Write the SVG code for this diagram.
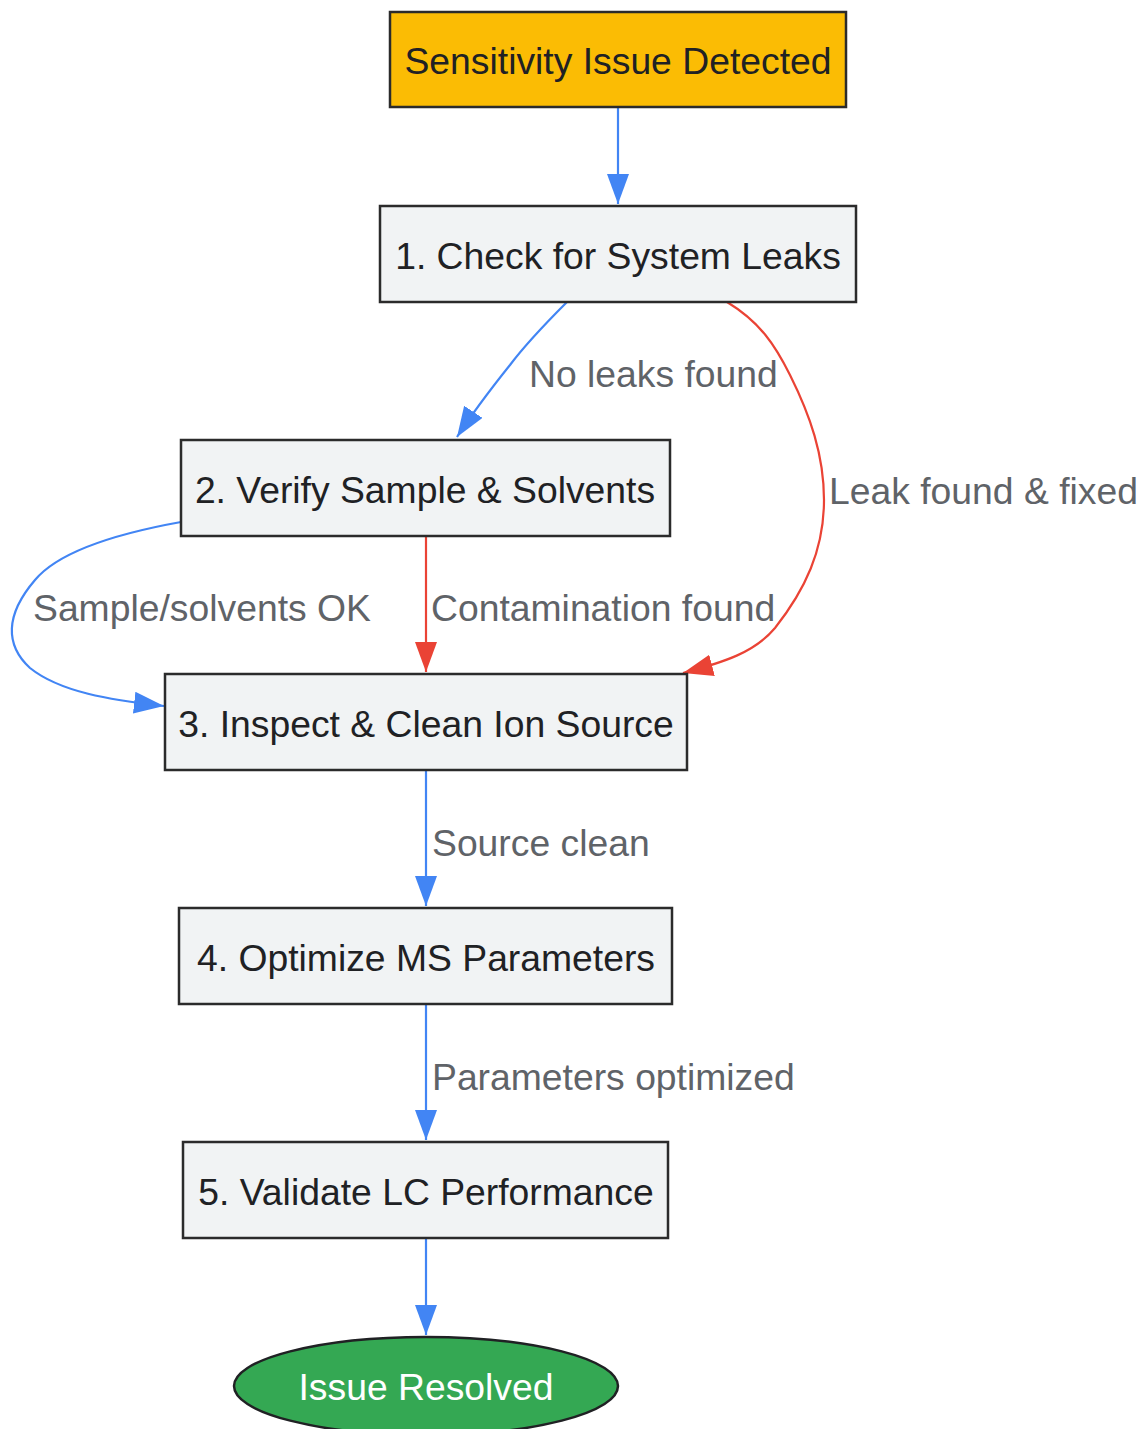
<svg xmlns="http://www.w3.org/2000/svg" width="1140" height="1429" viewBox="0 0 1140 1429">
<style>
.n{fill:#f1f3f4;stroke:#2b2b2b;stroke-width:2.5}
.t{font-family:"Liberation Sans",Arial,sans-serif;font-size:37.3px;fill:#202124;text-anchor:middle;dominant-baseline:central}
.l{font-family:"Liberation Sans",Arial,sans-serif;font-size:37.3px;fill:#5f6368;dominant-baseline:central}
.b{fill:none;stroke:#4285f4;stroke-width:2.2}
.r{fill:none;stroke:#ea4335;stroke-width:2.2}
</style>
<defs>
<marker id="ab" markerUnits="userSpaceOnUse" markerWidth="32" markerHeight="24" refX="30" refY="11" orient="auto"><path d="M0,0 L30,11 L0,22 Z" fill="#4285f4"/></marker>
<marker id="ar" markerUnits="userSpaceOnUse" markerWidth="32" markerHeight="24" refX="30" refY="11" orient="auto"><path d="M0,0 L30,11 L0,22 Z" fill="#ea4335"/></marker>
</defs>
<rect width="1140" height="1429" fill="#ffffff"/>
<g id="edges">
<path class="b" d="M618,107 L618,204" marker-end="url(#ab)"/>
<path class="b" d="M567,302 C545,324 525,345 510,365 C490,390 472,414 457,437" marker-end="url(#ab)"/>
<path class="r" d="M727,302 C760,322 775,345 790,375 C810,415 824,455 824,500 C824,550 805,590 775,628 C755,652 725,662 683,673" marker-end="url(#ar)"/>
<path class="b" d="M181,522 C120,533 60,550 35,580 C5,615 5,645 30,668 C60,692 110,700 164,706" marker-end="url(#ab)"/>
<path class="r" d="M426,536 L426,672" marker-end="url(#ar)"/>
<path class="b" d="M426,770 L426,906" marker-end="url(#ab)"/>
<path class="b" d="M426,1004 L426,1140" marker-end="url(#ab)"/>
<path class="b" d="M426,1238 L426,1335" marker-end="url(#ab)"/>
<text class="l" x="529" y="374">No leaks found</text>
<text class="l" x="829" y="491">Leak found &amp; fixed</text>
<text class="l" x="33" y="608">Sample/solvents OK</text>
<text class="l" x="431" y="608">Contamination found</text>
<text class="l" x="432" y="843">Source clean</text>
<text class="l" x="432" y="1077">Parameters optimized</text>
</g>
<g id="n0"><rect x="390" y="12" width="456" height="95" fill="#fbbc04" stroke="#2b2b2b" stroke-width="2.5"/><text class="t" x="618" y="61">Sensitivity Issue Detected</text></g>
<g id="n1"><rect class="n" x="380" y="206" width="476" height="96"/><text class="t" x="618" y="256">1. Check for System Leaks</text></g>
<g id="n2"><rect class="n" x="181" y="440" width="489" height="96"/><text class="t" x="425" y="490">2. Verify Sample &amp; Solvents</text></g>
<g id="n3"><rect class="n" x="165" y="674" width="522" height="96"/><text class="t" x="426" y="724">3. Inspect &amp; Clean Ion Source</text></g>
<g id="n4"><rect class="n" x="179" y="908" width="493" height="96"/><text class="t" x="426" y="958">4. Optimize MS Parameters</text></g>
<g id="n5"><rect class="n" x="183" y="1142" width="485" height="96"/><text class="t" x="426" y="1192">5. Validate LC Performance</text></g>
<g id="n6"><ellipse cx="426" cy="1386" rx="192" ry="49" fill="#34a853" stroke="#202124" stroke-width="2.5"/><text class="t" x="426" y="1387" style="fill:#ffffff">Issue Resolved</text></g>
</svg>
